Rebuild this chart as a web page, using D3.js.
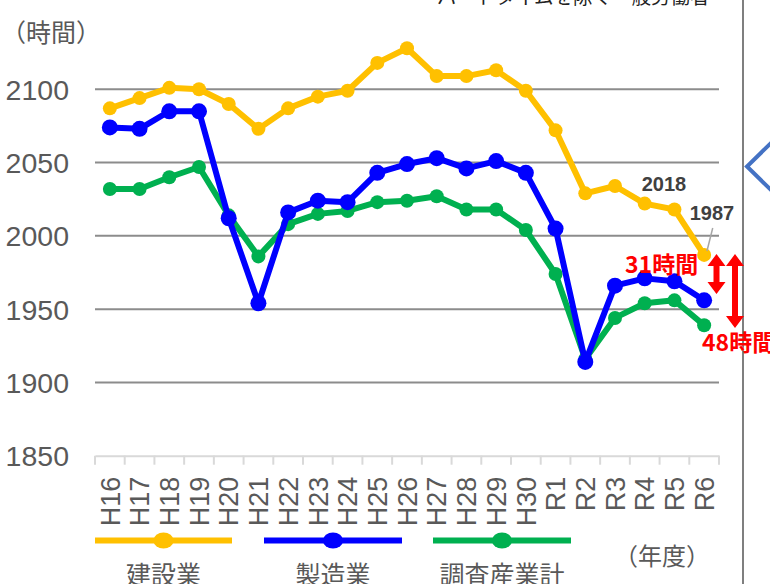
<!DOCTYPE html>
<html>
<head>
<meta charset="utf-8">
<script src="https://cdn.jsdelivr.net/npm/d3@7"></script>
<style>
  html, body { margin: 0; padding: 0; background: #fff; }
  svg { display: block; }
  text { font-family: "Liberation Sans", Arial, "Noto Sans CJK JP", sans-serif; }
  .cjk { font-family: "Noto Sans CJK JP", "Liberation Sans", sans-serif; }
</style>
</head>
<body>
<script>
// ---- data ----
const categories = ["H16","H17","H18","H19","H20","H21","H22","H23","H24","H25","H26","H27","H28","H29","H30","R1","R2","R3","R4","R5","R6"];
const construction = [2087,2094,2101,2100,2090,2073,2087,2095,2099,2118,2128,2109,2109,2113,2099,2072,2029,2034,2022,2018,1987];
const manufacturing = [2074,2073,2085,2085,2012,1954,2016,2024,2023,2043,2049,2053,2046,2051,2043,2005,1914,1966,1971,1969,1956];
const allIndustries = [2032,2032,2040,2047,2014,1986,2008,2015,2017,2023,2024,2027,2018,2018,2004,1974,1916,1944,1954,1956,1939];
const yTicks = [1850,1900,1950,2000,2050,2100];
const seriesNames = ["建設業","製造業","調査産業計"];
const seriesColors = ["#FFC000","#0000FF","#00B050"];

const W = 770, H = 584;
const svg = d3.select("body").append("svg").attr("width", W).attr("height", H);

const x = d3.scaleBand().domain(categories).range([95, 719]);
const y = d3.scaleLinear().domain([1850, 2100]).range([455.7, 89.3]);
const cx = d => x(d) + x.bandwidth() / 2;

// title (clipped at top)
svg.append("text").attr("class","cjk").attr("x", 437).attr("y", 4)
  .attr("font-size", 19.5).attr("fill", "#222")
  .text("パートタイムを除く一般労働者");

// right border line
svg.append("line").attr("x1", 743).attr("x2", 743).attr("y1", 0).attr("y2", H)
  .attr("stroke", "#7f7f7f").attr("stroke-width", 2);

// blue chevron
svg.append("path").attr("d", "M772,142 L747,166.5 L772,191")
  .attr("fill", "none").attr("stroke", "#4472C4").attr("stroke-width", 4);

// gridlines
svg.append("g").selectAll("line").data(yTicks.filter(t => t !== 1850)).join("line")
  .attr("x1", 95).attr("x2", 719)
  .attr("y1", d => y(d)).attr("y2", d => y(d))
  .attr("stroke", "#8c8c8c").attr("stroke-width", 2);

// y axis labels
const yAxis = d3.axisLeft(y).tickValues(yTicks).tickSize(0).tickPadding(0).tickFormat(d3.format("d"));
const gy = svg.append("g").attr("transform", "translate(69,0)").call(yAxis);
gy.select(".domain").remove();
gy.selectAll("text").attr("font-size", 28.5).attr("fill", "#595959")
  .attr("font-family", "'Liberation Sans', Arial, sans-serif").attr("dy", "0.35em");

// x axis
const xAxis = d3.axisBottom(x).tickSize(0).tickPadding(0);
const gx = svg.append("g").attr("transform", `translate(0,${y(1850)})`).call(xAxis);
gx.select(".domain").attr("stroke", "#d9d9d9").attr("stroke-width", 2);
gx.selectAll("text")
  .attr("font-size", 27).attr("fill", "#595959")
  .attr("font-family", "'Liberation Sans', Arial, sans-serif")
  .attr("transform", "rotate(-90)")
  .attr("text-anchor", "end")
  .attr("x", -21).attr("y", 0).attr("dy", "0.36em");
// boundary tick marks
const bounds = categories.map(c => x(c)).concat([x(categories[categories.length-1]) + x.bandwidth()]);
svg.append("g").selectAll("line").data(bounds).join("line")
  .attr("x1", d => d).attr("x2", d => d)
  .attr("y1", y(1850)).attr("y2", y(1850) + 9)
  .attr("stroke", "#d9d9d9").attr("stroke-width", 2);

// series
const line = d3.line().x((d, i) => cx(categories[i])).y(d => y(d));
const drawSeries = (vals, color, r) => {
  const g = svg.append("g");
  g.append("path").datum(vals).attr("d", line)
    .attr("fill", "none").attr("stroke", color).attr("stroke-width", 6).attr("stroke-linejoin", "round");
  g.selectAll("circle").data(vals).join("circle")
    .attr("cx", (d, i) => cx(categories[i])).attr("cy", d => y(d)).attr("r", r)
    .attr("fill", color);
};
drawSeries(allIndustries, seriesColors[2], 7);
drawSeries(construction, seriesColors[0], 7);
drawSeries(manufacturing, seriesColors[1], 8);

// annotations
svg.append("line").attr("x1", 712.7).attr("y1", 228).attr("x2", 707).attr("y2", 251)
  .attr("stroke", "#a6a6a6").attr("stroke-width", 1.5);
svg.append("text").attr("x", 664).attr("y", 184).attr("dy", "0.35em").attr("text-anchor", "middle")
  .attr("font-size", 20).attr("font-weight", "bold").attr("fill", "#404040").text("2018");
svg.append("text").attr("x", 712).attr("y", 213).attr("dy", "0.35em").attr("text-anchor", "middle")
  .attr("font-size", 20).attr("font-weight", "bold").attr("fill", "#404040").text("1987");

const arrow = (ax, y1, y2) => {
  const hw = 9, hl = 12, sw = 3;
  const p = `M${ax},${y1} L${ax+hw},${y1+hl} L${ax+sw},${y1+hl} L${ax+sw},${y2-hl} L${ax+hw},${y2-hl} L${ax},${y2} L${ax-hw},${y2-hl} L${ax-sw},${y2-hl} L${ax-sw},${y1+hl} L${ax-hw},${y1+hl} Z`;
  svg.append("path").attr("d", p).attr("fill", "#FF0000");
};
arrow(716.5, 254, 294);
arrow(735, 254, 328);
svg.append("text").attr("class","cjk").attr("x", 625).attr("y", 265).attr("dy", "0.36em")
  .attr("font-size", 23).attr("font-weight", "bold").attr("fill", "#FF0000").text("31時間");
svg.append("text").attr("class","cjk").attr("x", 702).attr("y", 343).attr("dy", "0.36em")
  .attr("font-size", 23).attr("font-weight", "bold").attr("fill", "#FF0000").text("48時間");

// unit labels
svg.append("text").attr("class","cjk").attr("x", 1).attr("y", 33).attr("dy", "0.36em")
  .attr("font-size", 25).attr("fill", "#595959").text("（時間）");
svg.append("text").attr("class","cjk").attr("x", 614).attr("y", 556).attr("dy", "0.36em")
  .attr("font-size", 24).attr("fill", "#595959").text("（年度）");

// legend
const legendX = [[95,232],[264,402],[433,571]];
legendX.forEach((lx, i) => {
  const g = svg.append("g");
  const mid = (lx[0] + lx[1]) / 2;
  g.append("line").attr("x1", lx[0]).attr("x2", lx[1]).attr("y1", 540.5).attr("y2", 540.5)
    .attr("stroke", seriesColors[i]).attr("stroke-width", 6);
  g.append("ellipse").attr("cx", mid).attr("cy", 540.5).attr("rx", 10).attr("ry", 8).attr("fill", seriesColors[i]);
  g.append("text").attr("class","cjk").attr("x", mid).attr("y", 584).attr("text-anchor", "middle")
    .attr("font-size", 25).attr("fill", "#595959").text(seriesNames[i]);
});
</script>
</body>
</html>
